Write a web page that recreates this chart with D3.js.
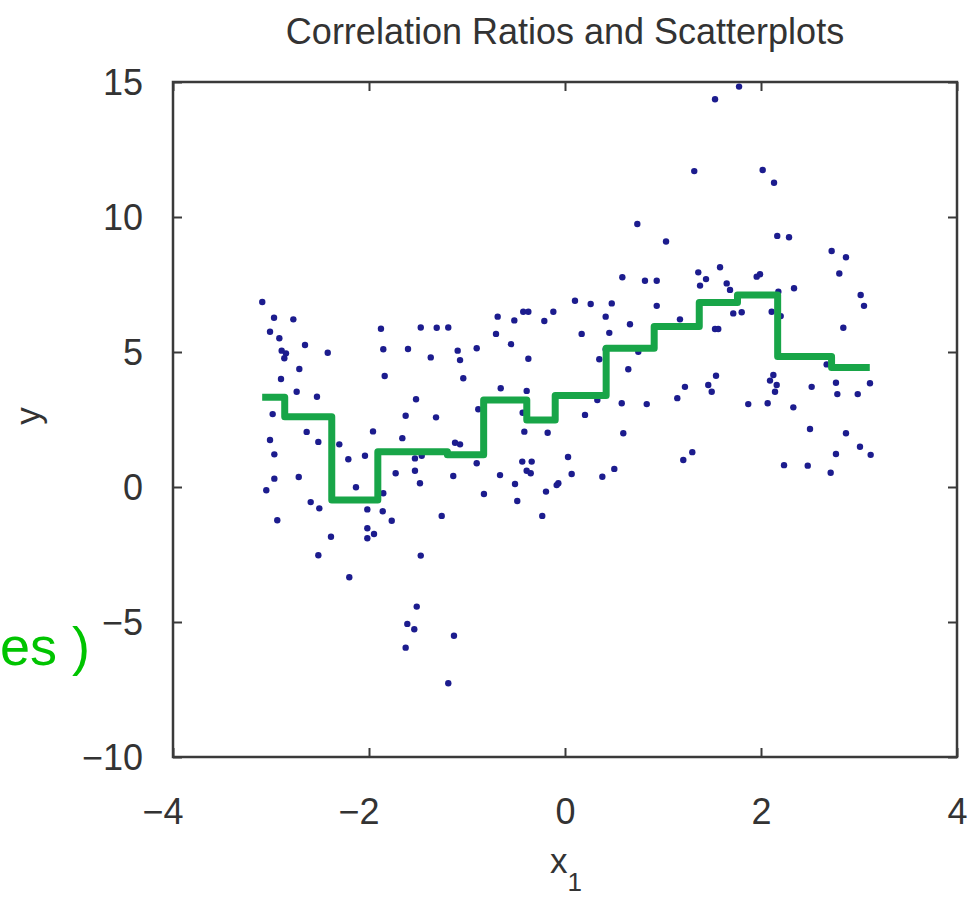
<html>
<head>
  <meta charset="utf-8">
  <style>
    body { margin: 0; background: #fff; }
    svg { font-family: "Liberation Sans", Arial, sans-serif; }
    .tick line { stroke: #3a3a3a; stroke-width: 2; }
    .tick text { fill: #333; font-size: 36px; }
  </style>
</head>
<body>
  <svg id="chart" width="980" height="898"></svg>
<script src="https://cdn.jsdelivr.net/npm/d3@7"></script>
<script>
  // scatter points: x1 and y
  const x1Values = [
    -3.089, -2.969, -2.772, -3.010, -2.915, -2.653, -2.891, -2.847, -2.864, -2.421,
    -1.878, -1.854, -1.602, -2.711, -2.898, -1.840, -2.738, -2.531, -2.983, -1.626,
    -2.636, -1.959, -3.010, -2.517, -2.303, -1.660, -2.966, -2.211, -2.041, -2.966,
    -2.717, -1.728, -3.048, -2.133, -1.854, -2.595, -2.507, -2.017, -1.860, -1.768,
    -2.936, -2.017, -1.949, -2.017, -2.388, -2.517,
    -0.687, -0.517, -0.426, -0.374, -0.211, -0.119, -1.472, -1.309, -1.191, -0.704,
    -0.551, -1.370, -1.095, -1.071, -0.901, -0.374, -1.038, -0.656, -0.391, -1.520,
    -0.885, -1.316, -0.432, -0.415, -0.177, -1.122, -1.071, -1.531, -1.462, -0.901,
    -0.436, -0.340, 0.031, -1.531, -1.140, -0.663, -0.391, -0.350, -1.480, -0.510,
    -0.068, -0.085, -0.194, -0.827, -0.487, -1.258, -0.232, -1.472,
    -2.201, -1.513, -1.609, -1.538, -1.626, -1.133, -1.191,
    0.102, 0.262, 0.477, 0.936, 0.415, 0.663, 1.173, 0.170, 0.452, 1.531,
    1.564, 0.415, 0.748, 0.350, 0.646, 1.541, 1.224, 1.462, 1.497, 1.146,
    0.330, 0.579, 0.834, 0.204, 0.595, 1.207, 1.299, 0.068, 0.381, 0.503,
    2.177, 2.337, 3.017, 3.051, 1.717, 1.803, 2.109, 2.201, 2.840, 2.670,
    2.126, 2.092, 2.160, 2.143, 2.517, 2.765, 2.779, 2.987, 3.112, 1.870,
    2.068, 2.330, 2.500, 2.867, 3.010, 3.119, 2.765, 2.235, 2.477, 2.711,
    1.776, 1.531, 1.319, 2.017, 2.133, 0.738, 1.031, 2.166, 2.286, 2.721,
    2.867, 2.799, 1.582, 1.360, 1.439, 1.378, 0.585, 0.816, 0.936, 1.650,
    1.684, 1.990, 1.956
  ];
  const yValues = [
    6.85, 6.27, 6.21, 5.75, 5.51, 5.26, 5.05, 4.95, 4.77, 4.97,
    5.86, 5.10, 5.11, 4.37, 4.00, 4.11, 3.53, 3.34, 2.70, 2.64,
    2.04, 2.06, 1.74, 1.67, 1.58, 1.81, 1.21, 1.03, 1.16, 0.31,
    0.37, 0.51, -0.12, -0.01, -0.23, -0.56, -0.79, -0.83, -0.90, -1.25,
    -1.23, -1.53, -1.74, -1.90, -1.84, -2.53,
    6.31, 6.17, 6.49, 6.49, 6.15, 6.49, 5.91, 5.90, 5.91, 5.67,
    5.29, 4.80, 5.05, 4.70, 5.14, 4.75, 4.03, 3.66, 3.56, 3.25,
    2.88, 2.58, 2.75, 2.05, 2.01, 1.64, 1.58, 1.06, 1.16, 0.88,
    0.94, 0.94, 1.11, 0.60, 0.41, 0.44, 0.60, 0.51, 0.14, 0.11,
    0.14, 0.07, -0.17, -0.26, -0.52, -1.07, -1.07, -2.54,
    -3.34, -4.43, -5.07, -5.27, -5.95, -5.51, -7.27,
    6.90, 6.78, 6.80, 6.71, 6.31, 6.03, 6.21, 5.67, 5.71, 5.85,
    5.85, 5.10, 5.01, 4.73, 4.36, 4.12, 3.71, 3.78, 3.53, 3.29,
    3.22, 3.10, 3.07, 2.67, 1.99, 1.00, 1.29, 0.48, 0.38, 0.67,
    7.23, 7.36, 7.11, 6.71, 6.43, 6.47, 6.49, 6.33, 5.90, 4.54,
    4.15, 3.94, 3.78, 3.53, 3.71, 3.86, 3.44, 3.44, 3.84, 3.07,
    3.10, 2.95, 2.15, 1.99, 1.49, 1.19, 1.22, 0.81, 0.79, 0.53,
    14.83, 14.36, 11.70, 11.74, 11.27, 9.74, 9.09, 9.30, 9.25, 8.74,
    8.51, 7.91, 8.14, 7.95, 7.70, 7.46, 7.77, 7.64, 7.64, 7.54,
    7.30, 7.88, 7.79
  ];

  // bin edges along x1 and the mean of y inside each bin (the green step line)
  const binEdges = [-3.09, -2.86, -2.38, -1.91, -1.20, -0.83, -0.39, -0.10, 0.42, 0.91, 1.37, 1.76, 2.17, 2.72, 3.11];
  const binMeans = [3.32, 2.60, -0.48, 1.31, 1.19, 3.22, 2.48, 3.39, 5.14, 5.94, 6.83, 7.11, 4.83, 4.43];

  const xTicks = [-4, -2, 0, 2, 4];
  const yTicks = [-10, -5, 0, 5, 10, 15];

  let svg = d3.select("#chart")

  let xScale = d3.scaleLinear().domain([-4, 4]).range([173, 957])
  let yScale = d3.scaleLinear().domain([-10, 15]).range([757, 82])

  let points = x1Values.map((x, i) => ({ x: x, y: yValues[i] }))

  // step line: one point per bin start plus the last edge
  let steps = binMeans.map((m, i) => ({ x: binEdges[i], y: m }))
  steps.push({ x: binEdges[binEdges.length - 1], y: binMeans[binMeans.length - 1] })

  // axes, ticks pointing inward on all four sides
  svg.append("g")
    .attr("transform", "translate(0,757)")
    .call(d3.axisBottom(xScale).tickValues(xTicks).tickSize(-9))
    .call(g => g.select(".domain").remove())
    .call(g => g.selectAll("text").attr("y", 67).attr("dy", 0)
                 .attr("x", 10).attr("text-anchor", "end"))

  svg.append("g")
    .attr("transform", "translate(0,82)")
    .call(d3.axisTop(xScale).tickValues(xTicks).tickSize(-9).tickFormat(""))
    .call(g => g.select(".domain").remove())

  svg.append("g")
    .attr("transform", "translate(173,0)")
    .call(d3.axisLeft(yScale).tickValues(yTicks).tickSize(-9))
    .call(g => g.select(".domain").remove())
    .call(g => g.selectAll("text").attr("x", -30).attr("dy", "0.35em"))

  svg.append("g")
    .attr("transform", "translate(957,0)")
    .call(d3.axisRight(yScale).tickValues(yTicks).tickSize(-9).tickFormat(""))
    .call(g => g.select(".domain").remove())

  svg.append("rect")
    .attr("x", xScale(-4)).attr("y", yScale(15))
    .attr("width", xScale(4) - xScale(-4))
    .attr("height", yScale(-10) - yScale(15))
    .attr("fill", "none")
    .attr("stroke", "#3a3a3a")
    .attr("stroke-width", 2.5)

  // scatter
  svg.append("g")
    .selectAll("circle")
    .data(points)
    .join("circle")
    .attr("cx", d => xScale(d.x))
    .attr("cy", d => yScale(d.y))
    .attr("r", 3.2)
    .attr("fill", "#1c1c8e")

  // conditional means
  let stepLine = d3.line()
    .x(d => xScale(d.x))
    .y(d => yScale(d.y))
    .curve(d3.curveStepAfter)

  svg.append("path")
    .datum(steps)
    .attr("d", stepLine)
    .attr("fill", "none")
    .attr("stroke", "#18a548")
    .attr("stroke-width", 7)
    .attr("stroke-linejoin", "round")

  // titles and labels
  svg.append("text")
    .attr("x", 565).attr("y", 44)
    .attr("text-anchor", "middle")
    .attr("font-size", 36)
    .attr("fill", "#333")
    .text("Correlation Ratios and Scatterplots")

  let xLabel = svg.append("text")
    .attr("x", 566).attr("y", 873)
    .attr("text-anchor", "middle")
    .attr("font-size", 35)
    .attr("fill", "#333")
  xLabel.append("tspan").text("x")
  xLabel.append("tspan").attr("font-size", 26).attr("dy", 18).text("1")

  svg.append("text")
    .attr("transform", "translate(40,416) rotate(-90)")
    .attr("text-anchor", "middle")
    .attr("font-size", 35)
    .attr("fill", "#333")
    .text("y")

  // green fragment on the left edge
  svg.append("text")
    .attr("x", 0).attr("y", 665)
    .attr("font-size", 54)
    .attr("fill", "#00c400")
    .text("es )")
</script>
</body>
</html>
